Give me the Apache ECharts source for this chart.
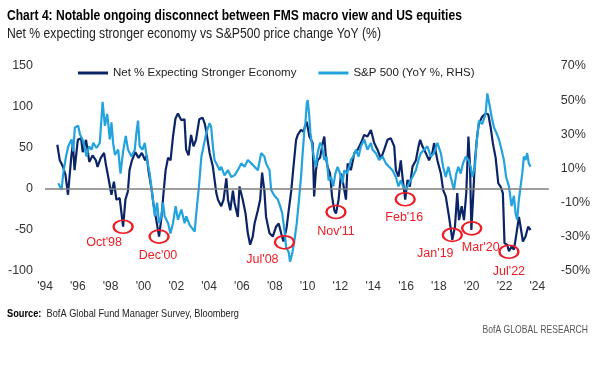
<!DOCTYPE html>
<html>
<head>
<meta charset="utf-8">
<script src="https://cdn.jsdelivr.net/npm/echarts@6/dist/echarts.min.js"></script>
<style>
html,body{margin:0;padding:0;background:#fff;}
#c{width:593px;height:378px;}
</style>
</head>
<body>
<div id="c"></div>
<script>
// ---- Data ----
var fmsYears = [1994.75,1994.9,1995.1,1995.25,1995.4,1995.6,1995.7,1995.8,1996.0,1996.2,1996.3,1996.5,1996.7,1996.9,1997.1,1997.2,1997.4,1997.6,1997.7,1997.85,1998.05,1998.2,1998.35,1998.55,1998.76,1998.9,1999.05,1999.15,1999.3,1999.5,1999.7,1999.9,2000.1,2000.2,2000.3,2000.5,2000.6,2000.75,2000.95,2001.1,2001.2,2001.35,2001.5,2001.65,2001.8,2001.95,2002.1,2002.3,2002.5,2002.6,2002.75,2002.9,2003.05,2003.2,2003.4,2003.6,2003.73,2003.83,2004.03,2004.23,2004.44,2004.54,2004.74,2004.88,2005.05,2005.15,2005.29,2005.45,2005.55,2005.75,2005.85,2006.05,2006.22,2006.36,2006.5,2006.66,2006.77,2006.97,2007.11,2007.23,2007.37,2007.47,2007.68,2007.88,2008.08,2008.24,2008.39,2008.53,2008.65,2008.73,2008.85,2009.0,2009.14,2009.3,2009.4,2009.6,2009.74,2009.95,2010.11,2010.31,2010.4,2010.51,2010.61,2010.76,2010.92,2011.02,2011.12,2011.22,2011.37,2011.49,2011.63,2011.73,2011.89,2012.04,2012.13,2012.34,2012.44,2012.64,2012.85,2013.05,2013.25,2013.45,2013.65,2013.86,2014.06,2014.26,2014.47,2014.67,2014.87,2015.07,2015.28,2015.38,2015.54,2015.68,2015.78,2015.95,2016.09,2016.23,2016.39,2016.6,2016.76,2016.86,2017.0,2017.2,2017.4,2017.6,2017.71,2017.91,2018.12,2018.26,2018.42,2018.62,2018.82,2018.98,2019.12,2019.23,2019.39,2019.53,2019.67,2019.8,2019.9,2019.98,2020.08,2020.2,2020.34,2020.44,2020.64,2020.85,2021.01,2021.15,2021.29,2021.46,2021.62,2021.76,2021.9,2022.0,2022.16,2022.27,2022.43,2022.57,2022.67,2022.88,2022.98,2023.12,2023.28,2023.44,2023.59];
var fmsValues = [54,35,27,17,-7,39,56,23,60,62,45,60,33,41,35,27,38,44,31,15,-7,9,-13,-11,-46,-13,-3,23,35,45,38,44,35,41,23,-1,-17,-34,-58,-34,-10,23,38,35,64,86,92,84,85,48,41,66,52,60,85,87,80,70,44,27,-5,-13,-21,-13,13,-13,-26,-2,-17,-34,3,-13,-30,-54,-68,-58,-42,-26,-13,20,-3,-34,-54,-58,-46,-42,-54,-64,-54,-46,-26,-3,27,60,66,72,70,82,64,56,-9,23,35,38,56,64,38,27,19,-9,-26,-30,-13,19,11,-13,31,23,44,48,56,66,64,72,56,48,37,48,60,62,52,23,15,35,15,-13,11,3,27,35,52,60,52,44,35,44,56,35,19,-1,-9,-34,-62,-46,-5,-38,-21,-38,-5,64,27,-50,-13,35,66,80,88,92,91,76,56,38,7,3,-5,-66,-68,-76,-70,-74,-62,-34,-46,-64,-58,-46,-50];

var spxYears = [1994.81,1995.01,1995.11,1995.28,1995.42,1995.62,1995.72,1995.82,1996.02,1996.13,1996.33,1996.53,1996.69,1996.84,1996.94,1997.14,1997.34,1997.51,1997.65,1997.79,1997.95,1998.05,1998.15,1998.26,1998.46,1998.6,1998.76,1998.92,1999.06,1999.27,1999.47,1999.57,1999.67,1999.77,1999.94,2000.08,2000.22,2000.38,2000.55,2000.69,2000.83,2000.95,2001.09,2001.19,2001.29,2001.5,2001.64,2001.8,2001.96,2002.1,2002.31,2002.51,2002.61,2002.81,2003.12,2003.22,2003.38,2003.53,2003.62,2003.83,2004.03,2004.13,2004.23,2004.33,2004.54,2004.64,2004.74,2004.94,2005.15,2005.35,2005.55,2005.75,2005.96,2006.16,2006.36,2006.57,2006.77,2006.97,2007.17,2007.37,2007.47,2007.68,2007.78,2007.98,2008.18,2008.33,2008.45,2008.59,2008.69,2008.85,2008.93,2009.06,2009.2,2009.34,2009.46,2009.6,2009.7,2009.81,2009.87,2009.95,2010.01,2010.11,2010.17,2010.31,2010.41,2010.51,2010.61,2010.76,2010.88,2011.02,2011.16,2011.28,2011.43,2011.57,2011.69,2011.83,2011.98,2012.13,2012.24,2012.38,2012.54,2012.64,2012.78,2012.95,2013.11,2013.25,2013.45,2013.65,2013.86,2013.96,2014.16,2014.36,2014.57,2014.77,2014.97,2015.17,2015.38,2015.54,2015.68,2015.82,2015.99,2016.19,2016.39,2016.6,2016.76,2016.9,2017.1,2017.3,2017.51,2017.71,2017.91,2018.12,2018.26,2018.42,2018.58,2018.72,2018.92,2019.06,2019.19,2019.33,2019.47,2019.64,2019.8,2019.94,2020.04,2020.2,2020.28,2020.44,2020.64,2020.85,2020.95,2021.09,2021.22,2021.36,2021.5,2021.66,2021.82,2021.96,2022.1,2022.27,2022.43,2022.57,2022.67,2022.77,2022.88,2022.98,2023.08,2023.18,2023.28,2023.38,2023.48,2023.59];
var spxValues = [1.4,-2.5,7,17,23,27,20,34,35,30,26,17,23,21,25,22,25,49,35,42,27,37,25,18,21,7,20,29,21,17,21,31,38,23,21,25,15,7,-6,-18,-10,-22,-18,-10,-18,-22,-28,-22,-12,-20,-14,-22,-18,-23,-27,-16,-0.5,17,21,31,36.5,34,23,15,11,9,11,6,9,5,6,9,13,11,15,13,11,9,19,17,13,9,-2.5,-6,-8,-12,-16,-26,-36,-39,-44.5,-40,-32,-22,-10,5,19,33,37,48,50,40,31,21,15,11,19,25,23,15,17,3,5,-0.5,7,11,7,1.5,9,7,11,15,17,21,17,23,27,21,25,21,19,15,17,13,11,9,5,-0.5,3,-0.5,-2.5,1.5,5,9,15,19,21,23,17,19,25,19,11,5,11,5,-2.5,7,11,7,13,17,15,11,5,11,23,38,36,42,54,47,40,34,31,27,21,15,5,-0.5,-12,-6,-16,-20,-8,-0.5,7,17,15,19,13,11];

var xTickYears = [1994,1996,1998,2000,2002,2004,2006,2008,2010,2012,2014,2016,2018,2020,2022,2024];
var xTickLabels = ["'94","'96","'98","'00","'02","'04","'06","'08","'10","'12","'14","'16","'18","'20","'22","'24"];

var annoLabels = ["Oct'98","Dec'00","Jul'08","Nov'11","Feb'16","Jan'19","Mar'20","Jul'22"];
var annoYears  = [1998.76,2000.95,2008.59,2011.73,2015.95,2018.82,2020.0,2022.27];
var annoValues = [-46,-58,-65,-28,-12.5,-56,-48,-76.5];

var seriesNames = ["Net % Expecting Stronger Economy","S&P 500 (YoY %, RHS)"];

// ---- Build ----
var FONT = "'Liberation Sans',Arial,sans-serif";
var RED = '#ee1c25';
function pairs(xs, ys){ return xs.map(function(x,i){ return [x, ys[i]]; }); }
var labelOffsets = [[-19,16],[-1,19],[-22,17],[0,20],[-1,18],[-17,19],[9,19],[0,20]];

var chart = echarts.init(document.getElementById('c'), null, {renderer:'canvas'});
chart.setOption({
  animation:false,
  backgroundColor:'#fff',
  textStyle:{fontFamily:FONT},
  graphic:[
    {type:'text', x:7, y:16, scaleX:0.805, silent:true,
     style:{text:'Chart 4: Notable ongoing disconnect between FMS macro view and US equities',
       fontFamily:FONT, fontSize:15, fontWeight:'bold', fill:'#000', verticalAlign:'middle', align:'left'}},
    {type:'text', x:7, y:34, scaleX:0.87, silent:true,
     style:{text:'Net % expecting stronger economy vs S&P500 price change YoY (%)',
       fontFamily:FONT, fontSize:14, fill:'#222', verticalAlign:'middle', align:'left'}},
    {type:'text', x:7, y:314, scaleX:0.84, silent:true,
     style:{text:'{b|Source:}  BofA Global Fund Manager Survey, Bloomberg',
       fontFamily:FONT, fontSize:11, fill:'#222', verticalAlign:'middle', align:'left',
       rich:{b:{fontFamily:FONT, fontSize:11, fontWeight:'bold', fill:'#000'}}}},
    {type:'text', x:588, y:330, scaleX:0.78, silent:true,
     style:{text:'BofA GLOBAL RESEARCH', fontFamily:FONT, fontSize:11, fill:'#555',
       verticalAlign:'middle', align:'right'}}
  ],
  legend:{
    data:seriesNames, left:73, top:62, itemWidth:30, itemHeight:3, itemGap:22, icon:'rect',
    textStyle:{fontFamily:FONT, fontSize:11.5, color:'#222'}
  },
  grid:{left:45, right:43, top:66, bottom:107, containLabel:false},
  xAxis:{
    type:'value', min:1994, max:2024.7, interval:2,
    axisLine:{show:false}, axisTick:{show:false}, splitLine:{show:false},
    axisLabel:{margin:10, fontFamily:FONT, fontSize:12, color:'#333',
      formatter:function(v){ var i = xTickYears.indexOf(Math.round(v)); return i>=0 ? xTickLabels[i] : ''; }}
  },
  yAxis:[
    {type:'value', min:-100, max:150, interval:50, position:'left',
     axisLine:{show:false}, axisTick:{show:false}, splitLine:{show:false},
     axisLabel:{margin:12, fontFamily:FONT, fontSize:12.5, color:'#333'}},
    {type:'value', min:-50, max:70, interval:20, position:'right',
     axisLine:{show:false}, axisTick:{show:false}, splitLine:{show:false},
     axisLabel:{margin:12, fontFamily:FONT, fontSize:12.5, color:'#333', formatter:'{value}%'}}
  ],
  series:[
    {name:seriesNames[0], type:'line', yAxisIndex:0, data:pairs(fmsYears,fmsValues),
     showSymbol:false, symbol:'none', color:'#0b2466', lineStyle:{width:2.2, color:'#0b2466'}, z:3,
     markLine:{silent:true, symbol:'none', label:{show:false},
       lineStyle:{color:'#7f7f7f', width:1.5, type:'solid'}, data:[{yAxis:0}]},
     markPoint:{silent:true, symbol:'circle', symbolSize:[19,13],
       itemStyle:{color:'rgba(0,0,0,0)', borderColor:RED, borderWidth:2},
       label:{show:true, position:'inside', color:RED, fontFamily:FONT, fontSize:12.5},
       data:annoLabels.map(function(l,i){ return {coord:[annoYears[i], annoValues[i]], value:l,
          label:{formatter:l, offset:labelOffsets[i]}}; })}
    },
    {name:seriesNames[1], type:'line', yAxisIndex:1, data:pairs(spxYears,spxValues),
     showSymbol:false, symbol:'none', color:'#23a3dd', lineStyle:{width:2.2, color:'#23a3dd'}, z:4}
  ]
});
</script>
</body>
</html>
